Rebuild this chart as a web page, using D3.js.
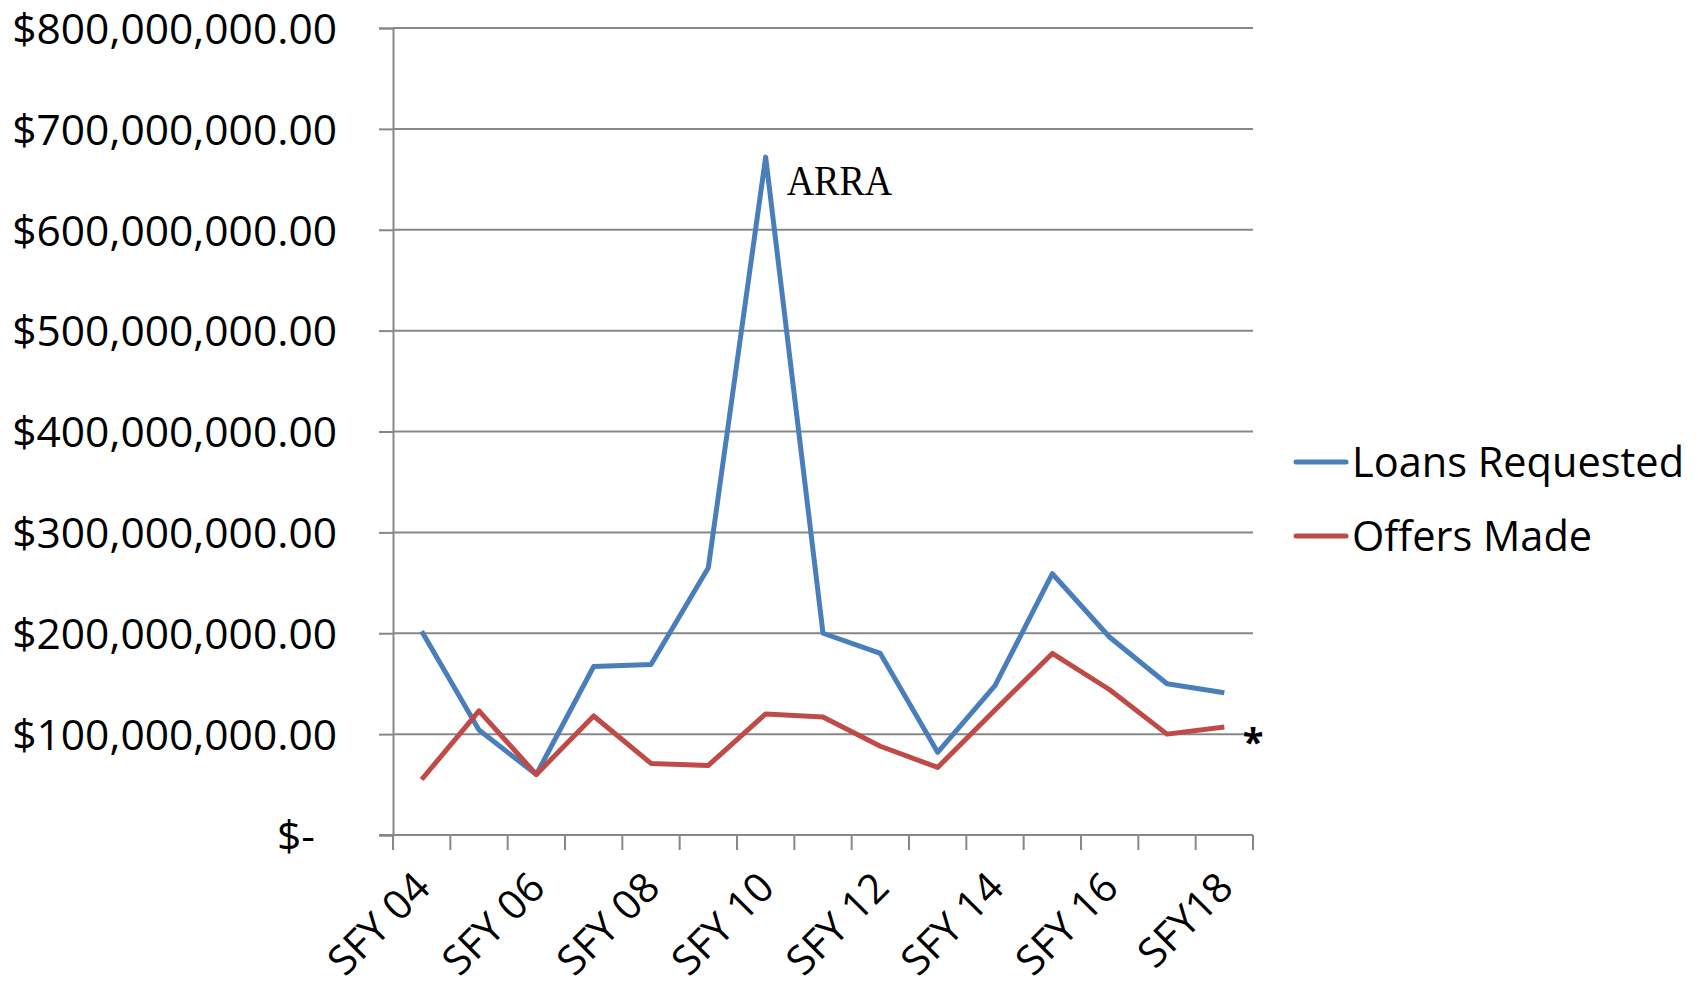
<!DOCTYPE html>
<html>
<head>
<meta charset="utf-8">
<script src="https://cdn.jsdelivr.net/npm/d3@7"></script>
<style>
  html, body { margin: 0; padding: 0; background: #fff; }
  svg { display: block; }
</style>
</head>
<body>
<svg id="chart" width="1698" height="989"></svg>
<script>
const categories = ["SFY 04","SFY 05","SFY 06","SFY 07","SFY 08","SFY 09","SFY 10","SFY 11","SFY 12","SFY 13","SFY 14","SFY 15","SFY 16","SFY 17","SFY18"];
const shownLabels = ["SFY 04","SFY 06","SFY 08","SFY 10","SFY 12","SFY 14","SFY 16","SFY18"];
const loansRequested = [202e6,104e6,60e6,167e6,169e6,265e6,672e6,200e6,180e6,82e6,148e6,259e6,196e6,150e6,141e6];
const offersMade = [55e6,123e6,60e6,118e6,71e6,69e6,120e6,117e6,88e6,67e6,124e6,180e6,144e6,100e6,107e6];
const yTicks = [0,100e6,200e6,300e6,400e6,500e6,600e6,700e6,800e6];
const seriesNames = ["Loans Requested","Offers Made"];
const seriesColors = ["#4a7ebb","#be4b48"];

(function () {
const svg = d3.select("#chart");
const pLeft = 393, pRight = 1253, pTop = 28, pBottom = 835;
const font = "'Open Sans', sans-serif";

const x = d3.scaleBand().domain(categories).range([pLeft, pRight]).padding(0);
const y = d3.scaleLinear().domain([0, 800e6]).range([pBottom, pTop]);
const cx = d => x(d) + x.bandwidth() / 2;

const gridColor = "#878787";

// gridlines
svg.append("g").selectAll("line").data(yTicks.filter(t => t > 0)).join("line")
  .attr("x1", pLeft).attr("x2", pRight)
  .attr("y1", d => y(d)).attr("y2", d => y(d))
  .attr("stroke", gridColor).attr("stroke-width", 2);

// y axis
const fmt = d3.format("$,.2f");
const yAxis = svg.append("g").attr("transform", `translate(${pLeft},0)`)
  .call(d3.axisLeft(y).tickValues(yTicks).tickSize(14).tickPadding(42)
    .tickFormat(d => d === 0 ? "$-" : fmt(d)));
yAxis.select(".domain").attr("stroke", gridColor).attr("stroke-width", 2);
yAxis.selectAll(".tick line").attr("stroke", gridColor).attr("stroke-width", 2);
yAxis.selectAll(".tick text")
  .attr("font-family", font).attr("font-size", 42.5).attr("fill", "#000")
  .attr("dy", "0.36em")
  .attr("dx", d => d === 0 ? -22 : 0);

// x axis line and ticks
svg.append("line").attr("x1", pLeft - 14).attr("x2", pRight)
  .attr("y1", pBottom).attr("y2", pBottom)
  .attr("stroke", gridColor).attr("stroke-width", 2);
const tickXs = categories.map(c => x(c)).concat([x.range()[1]]);
svg.append("g").selectAll("line").data(tickXs).join("line")
  .attr("x1", d => d).attr("x2", d => d)
  .attr("y1", pBottom).attr("y2", pBottom + 15)
  .attr("stroke", gridColor).attr("stroke-width", 2);

// x labels
svg.append("g").selectAll("text").data(shownLabels).join("text")
  .attr("transform", d => `translate(${cx(d) + 11},${pBottom + 55}) rotate(-45)`)
  .attr("text-anchor", "end")
  .attr("font-family", font).attr("font-size", 41).attr("fill", "#000")
  .text(d => d);

// lines
const seriesData = [loansRequested, offersMade];
const line = d3.line().x((d, i) => cx(categories[i])).y(d => y(d));
svg.append("g").selectAll("path").data(seriesData).join("path")
  .attr("d", d => line(d))
  .attr("fill", "none")
  .attr("stroke", (d, i) => seriesColors[i])
  .attr("stroke-width", 5)
  .attr("stroke-linejoin", "round");

// ARRA annotation
svg.append("text")
  .attr("transform", `translate(${cx("SFY 10") + 21},195) scale(1,1.12)`)
  .attr("font-family", "'Liberation Serif', 'Times New Roman', serif")
  .attr("font-size", 38).attr("fill", "#000")
  .text("ARRA");

// asterisk
svg.append("text")
  .attr("x", pRight).attr("y", 756)
  .attr("text-anchor", "middle")
  .attr("font-family", font).attr("font-weight", "bold")
  .attr("font-size", 38).attr("fill", "#000")
  .text("*");

// legend
const legend = svg.append("g");
seriesNames.forEach((name, i) => {
  const ly = 462 + i * 74;
  legend.append("line").attr("x1", 1296).attr("x2", 1346)
    .attr("y1", ly).attr("y2", ly)
    .attr("stroke", seriesColors[i]).attr("stroke-width", 5)
    .attr("stroke-linecap", "round");
  legend.append("text").attr("x", 1352).attr("y", ly).attr("dy", "0.36em")
    .attr("font-family", font).attr("font-size", 41.5).attr("fill", "#000")
    .text(name);
});
})();
</script>
</body>
</html>
